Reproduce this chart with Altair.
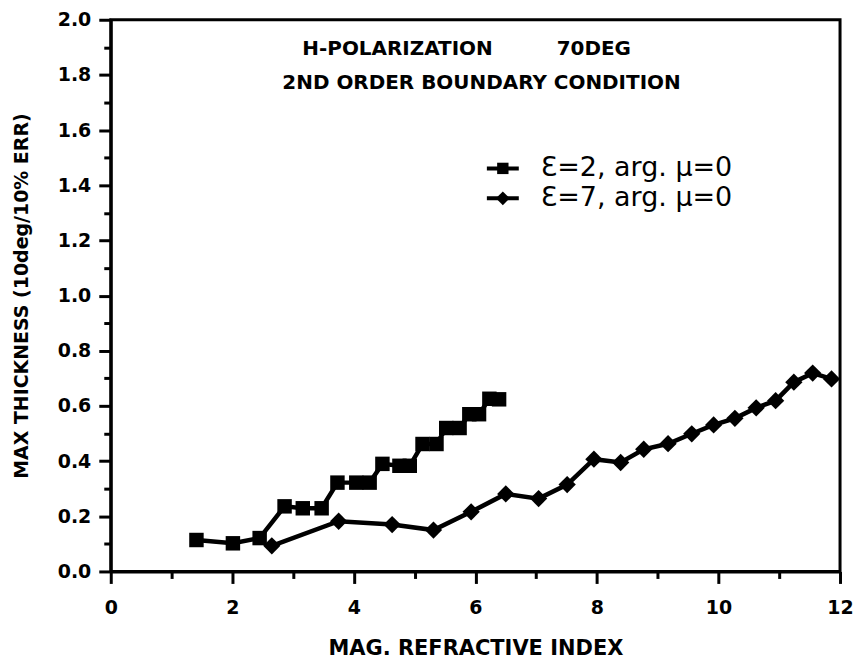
import altair as alt
import pandas as pd

# Series: eps=2 (squares) and eps=7 (diamonds)
eps2_x = [1.41, 2.01, 2.45, 2.86, 3.16, 3.47, 3.73, 4.04, 4.26, 4.47, 4.75, 4.92,
          5.13, 5.36, 5.52, 5.74, 5.90, 6.06, 6.23, 6.39]
eps2_y = [0.114, 0.102, 0.121, 0.236, 0.229, 0.229, 0.322, 0.322, 0.322, 0.390, 0.383, 0.383,
          0.462, 0.462, 0.520, 0.520, 0.570, 0.570, 0.626, 0.624]
eps7_x = [2.65, 3.75, 4.63, 5.31, 5.93, 6.50, 7.04, 7.51, 7.95, 8.39, 8.77, 9.17,
          9.56, 9.92, 10.27, 10.62, 10.94, 11.24, 11.55, 11.86]
eps7_y = [0.093, 0.182, 0.170, 0.150, 0.216, 0.281, 0.264, 0.315, 0.407, 0.395, 0.443, 0.463,
          0.499, 0.531, 0.555, 0.593, 0.619, 0.686, 0.719, 0.698]

series_names = ["Ɛ=2, arg. μ=0", "Ɛ=7, arg. μ=0"]
x_major = [0, 2, 4, 6, 8, 10, 12]
x_minor = [1, 3, 5, 7, 9, 11]
y_major = [0.0, 0.2, 0.4, 0.6, 0.8, 1.0, 1.2, 1.4, 1.6, 1.8, 2.0]
y_minor = [0.1, 0.3, 0.5, 0.7, 0.9, 1.1, 1.3, 1.5, 1.7, 1.9]
title_line1a = "H-POLARIZATION"
title_line1b = "70DEG"
title_line2 = "2ND ORDER BOUNDARY CONDITION"

df = pd.concat([
    pd.DataFrame({"x": eps2_x, "y": eps2_y, "series": series_names[0], "order": range(len(eps2_x))}),
    pd.DataFrame({"x": eps7_x, "y": eps7_y, "series": series_names[1], "order": range(len(eps7_x))}),
])

FONT = "DejaVu Sans"
xs = alt.Scale(domain=[0, 12], nice=False, zero=False)
ys = alt.Scale(domain=[0, 2], nice=False, zero=False)

x_axis = alt.Axis(values=x_major, format="d", tickSize=12, tickWidth=3, tickColor="black",
                  domainWidth=3, domainColor="black", grid=False, orient="bottom",
                  labelFlush=False, labelOverlap=False,
                  labelFont=FONT, labelFontWeight="bold", labelFontSize=19, labelColor="black",
                  labelPadding=15, title="MAG. REFRACTIVE INDEX", titleFont=FONT,
                  titleFontWeight="bold", titleFontSize=21, titleColor="black", titlePadding=20)
y_axis = alt.Axis(values=y_major, format=".1f", tickSize=12, tickWidth=3, tickColor="black",
                  domainWidth=3, domainColor="black", grid=False, orient="left",
                  labelFlush=False, labelOverlap=False,
                  labelFont=FONT, labelFontWeight="bold", labelFontSize=19, labelColor="black",
                  labelPadding=8, title="MAX THICKNESS (10deg/10% ERR)", titleFont=FONT,
                  titleFontWeight="bold", titleFontSize=19, titleColor="black", titlePadding=26)

base = alt.Chart(df)
lines = base.mark_line(color="black", strokeWidth=4.5).encode(
    x=alt.X("x:Q", scale=xs, axis=x_axis),
    y=alt.Y("y:Q", scale=ys, axis=y_axis),
    detail="series:N",
    order="order:Q",
)
points = base.mark_point(filled=True, color="black", opacity=1).encode(
    x=alt.X("x:Q", scale=xs),
    y=alt.Y("y:Q", scale=ys),
    shape=alt.Shape("series:N", scale=alt.Scale(domain=series_names, range=["square", "diamond"]),
                    legend=None),
    size=alt.Size("series:N", scale=alt.Scale(domain=series_names, range=[210, 300]), legend=None),
)

def label(txt, px, py, size, weight="bold", align="left"):
    return alt.Chart(pd.DataFrame({"t": [txt]})).mark_text(
        font=FONT, fontSize=size, fontWeight=weight, align=align, baseline="middle", color="black"
    ).encode(text="t:N", x=alt.value(px), y=alt.value(py))

TOP = 19  # page y of plot top
titles = [
    label(title_line1a, 192, 48 - TOP, 20),
    label(title_line1b, 447, 48 - TOP, 20),
    label(title_line2, 172, 82 - TOP, 20),
]

leg = []
for i, (name, shp, sz) in enumerate(zip(series_names, ["square", "diamond"], [130, 190])):
    yy = 168 - TOP + 30 * i
    leg.append(alt.Chart(pd.DataFrame({"s": [name]})).mark_rule(color="black", strokeWidth=4).encode(
        x=alt.value(377), x2=alt.value(409), y=alt.value(yy)))
    leg.append(alt.Chart(pd.DataFrame({"s": [name]})).mark_point(
        filled=True, color="black", opacity=1, shape=shp, size=sz).encode(
        x=alt.value(393), y=alt.value(yy)))
    leg.append(label(name, 431, yy, 27, weight="normal"))

main = alt.layer(lines, points, *titles, *leg)

minor = base.mark_point(opacity=0).encode(
    x=alt.X("x:Q", scale=xs, axis=alt.Axis(values=x_minor, tickSize=7, tickWidth=3, tickColor="black",
                                           labels=False, domain=False, grid=False, orient="bottom",
                                           title=None)),
    y=alt.Y("y:Q", scale=ys, axis=alt.Axis(values=y_minor, tickSize=7, tickWidth=3, tickColor="black",
                                           labels=False, domain=False, grid=False, orient="left",
                                           title=None)),
)

chart = alt.layer(main, minor).resolve_scale(x="independent", y="independent").properties(
    width=731, height=553,
    autosize=alt.AutoSizeParams(type="none"),
    padding={"left": 103, "top": 11, "right": 15, "bottom": 95},
    background="white",
).configure_view(stroke="black", strokeWidth=3)

chart.save("out.html", embed_options={"renderer": "svg", "actions": False})
